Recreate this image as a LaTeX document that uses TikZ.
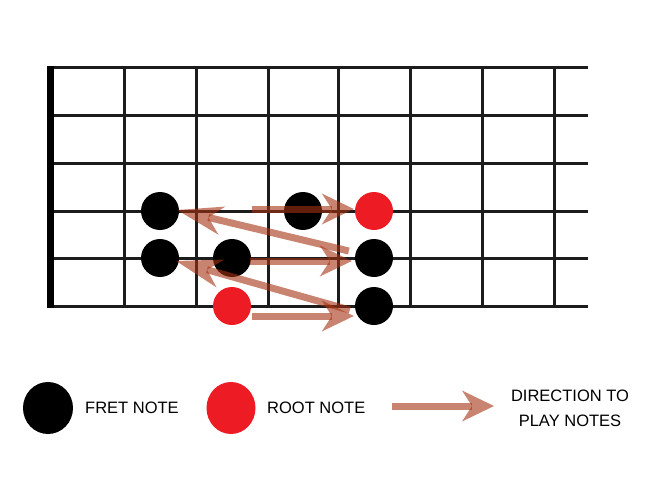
\documentclass[tikz,border=0pt]{standalone}
\usepackage{fontspec}
\setmainfont{Liberation Sans}
\usetikzlibrary{arrows.meta,calc,shapes.geometric}
\definecolor{arrowc}{RGB}{164,50,18}
\definecolor{rootred}{RGB}{237,28,36}
\definecolor{gridc}{RGB}{28,28,28}
\begin{document}
\begin{tikzpicture}[x=1pt,y=-1pt,
  stringline/.style={draw=gridc,line width=3pt},
  fretline/.style={draw=gridc,line width=3pt},
  fretnote/.style={circle,fill=black,minimum size=38pt,inner sep=0pt},
  rootnote/.style={circle,fill=rootred,minimum size=38pt,inner sep=0pt},
  playarrow/.style={draw=arrowc,line width=7pt,opacity=0.6,-{Stealth[length=32pt,width=31pt,inset=10pt,line width=0pt]}},
  longarrow/.style={draw=arrowc,line width=7pt,opacity=0.6,-{Stealth[length=46pt,width=29pt,inset=14pt,line width=0pt]}},
  legendtext/.style={font=\fontsize{16.5}{25}\selectfont,inner sep=0pt,text=black}]
\fill[white] (0,0) rectangle (650,500);
\useasboundingbox (0,0) rectangle (650,500);
% strings and frets
\foreach \y in {68,116,163,211,258,306} \draw[stringline] (50,\y) -- (588,\y);
\foreach \x in {124,196,268,338,410,482,554} \draw[fretline] (\x,68) -- (\x,306);
\fill[black] (47,66) rectangle (54,308);
% notes
\node[rootnote] (r1) at (232,306) {};
\node[fretnote] (f1) at (374,306) {};
\node[fretnote] (f2) at (160,258) {};
\node[fretnote] (f3) at (232,258) {};
\node[fretnote] (f4) at (374,258) {};
\node[fretnote] (f5) at (160,211) {};
\node[fretnote] (f6) at (303,211) {};
\node[rootnote] (r2) at (374,211) {};
% arrows
\draw[playarrow] ($(r1.east)+(1,10)$) -- ($(f1.west)+(-1,10)$);
\draw[longarrow] ($(f1.west)+(-5,4)$) -- ($(f2.east)+(-3,3)$);
\draw[playarrow] ($(f3.east)+(-1,3)$) -- ($(f4.west)+(-3,3)$);
\draw[longarrow] ($(f4.west)+(-6,-7)$) -- ($(f5.east)+(-2,-1)$);
\draw[playarrow] ($(f6.west)+(-32,-2)$) -- ($(r2.west)+(-1,-2)$);
% legend
\node[ellipse,fill=black,minimum width=50pt,minimum height=52pt,inner sep=0pt] (lf) at (48,408) {};
\node[legendtext,anchor=west] (tf) at (85,408) {FRET NOTE};
\node[ellipse,fill=rootred,minimum width=49pt,minimum height=52pt,inner sep=0pt] (lr) at (231,408) {};
\node[legendtext,anchor=west] (tr) at (267,408) {ROOT NOTE};
\coordinate (la1) at (392,406);
\coordinate (la2) at (494,406);
\draw[playarrow] (la1) -- (la2);
\node[legendtext,align=center] (td) at (570,408) {DIRECTION TO\\PLAY NOTES};
\end{tikzpicture}
\end{document}
